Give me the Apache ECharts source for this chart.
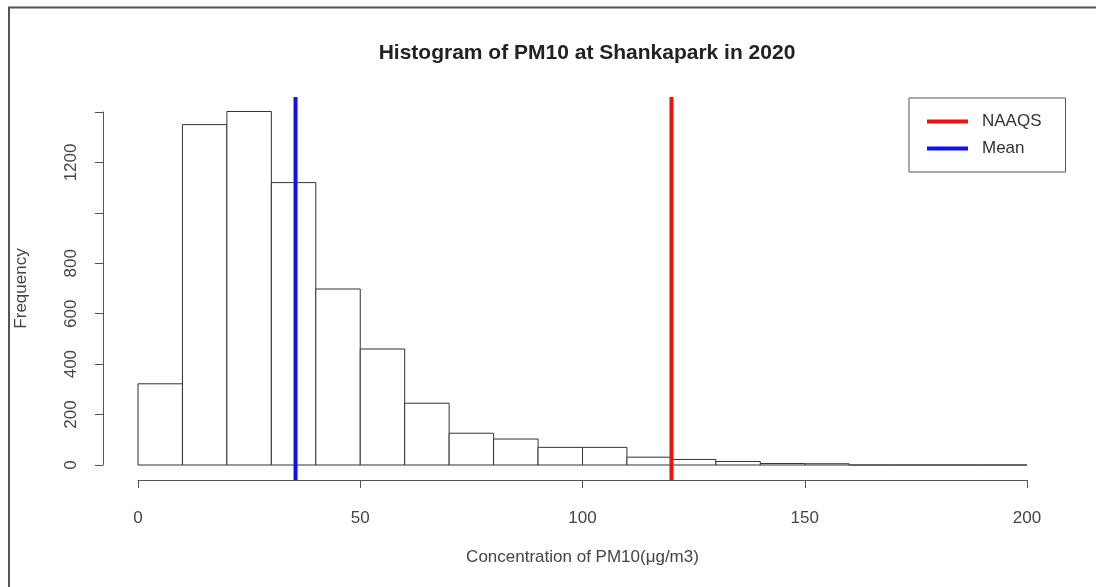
<!DOCTYPE html>
<html>
<head>
<meta charset="utf-8">
<script src="https://cdn.jsdelivr.net/npm/echarts@6/dist/echarts.min.js"></script>
<style>
  html, body { margin: 0; padding: 0; background: #fff; }
  #main { width: 1096px; height: 587px; }
</style>
</head>
<body>
<div id="main"></div>
<script>
// histogram bins (left edges, width 10) and counts
var binStart = [0, 10, 20, 30, 40, 50, 60, 70, 80, 90, 100, 110, 120, 130, 140, 150, 160, 170, 180, 190];
var binWidth = 10;
var counts = [322, 1350, 1402, 1120, 698, 460, 245, 126, 103, 70, 70, 31, 22, 14, 6, 5, 0, 0, 0, 0];
var meanValue = 35.5;
var naaqsValue = 120;
var yLabelsShown = [0, 200, 400, 600, 800, 1200];

var chart = echarts.init(document.getElementById('main'));

var histData = [];
for (var i = 0; i < binStart.length; i++) {
  histData.push([binStart[i], binStart[i] + binWidth, counts[i]]);
}

var font = 'Liberation Sans, Arial, sans-serif';

var option = {
  backgroundColor: '#fff',
  animation: false,
  title: {
    text: 'Histogram of PM10 at Shankapark in 2020',
    left: 582,
    top: 38,
    textAlign: 'center',
    textStyle: { fontFamily: font, fontSize: 21, fontWeight: 'bold', color: '#222' }
  },
  legend: {
    orient: 'vertical',
    left: 909,
    top: 98,
    data: ['NAAQS', 'Mean'],
    icon: 'rect',
    itemWidth: 41,
    itemHeight: 4,
    itemGap: 10,
    padding: [15, 24, 15, 18],
    borderColor: '#555',
    borderWidth: 1,
    textStyle: { fontFamily: font, fontSize: 17, color: '#333', padding: [0, 0, 0, 9] }
  },
  graphic: [{
    type: 'polyline',
    shape: { points: [[9, 587], [9, 7.5], [1096, 7.5]] },
    style: { stroke: '#555', lineWidth: 2, fill: null }
  }],
  grid: [
    { left: 138, right: 69, top: 112, bottom: 122 },
    { left: 102, right: 33, top: 97, bottom: 107 }
  ],
  xAxis: [{
    gridIndex: 0,
    type: 'value',
    min: 0,
    max: 200,
    interval: 50,
    offset: 15,
    splitLine: { show: false },
    axisLine: { onZero: false, lineStyle: { color: '#555', width: 1 } },
    axisTick: { length: 8, lineStyle: { color: '#555' } },
    axisLabel: { margin: 30, fontFamily: font, fontSize: 17, color: '#444' },
    name: 'Concentration of PM10(μg/m3)',
    nameLocation: 'middle',
    nameGap: 69,
    nameTextStyle: { fontFamily: font, fontSize: 17, color: '#444' }
  }, {
    gridIndex: 1,
    type: 'value',
    min: -8,
    max: 208,
    show: false
  }],
  yAxis: [{
    gridIndex: 0,
    type: 'value',
    min: 0,
    max: 1400,
    interval: 200,
    offset: 35,
    splitLine: { show: false },
    axisLine: { show: true, onZero: false, lineStyle: { color: '#555', width: 1 } },
    axisTick: { show: true, length: 8, lineStyle: { color: '#555' } },
    axisLabel: {
      rotate: 90,
      margin: 23,
      fontFamily: font,
      fontSize: 17,
      color: '#444',
      formatter: function (v) {
        return yLabelsShown.indexOf(v) >= 0 ? String(v) : '';
      }
    },
    name: 'Frequency',
    nameLocation: 'middle',
    nameRotate: 90,
    nameGap: 73,
    nameTextStyle: { fontFamily: font, fontSize: 17, color: '#444' }
  }, {
    gridIndex: 1,
    type: 'value',
    min: 0,
    max: 1,
    show: false
  }],
  series: [{
    name: 'hist',
    type: 'custom',
    xAxisIndex: 0,
    yAxisIndex: 0,
    data: histData,
    encode: { x: [0, 1], y: 2 },
    renderItem: function (params, api) {
      var p0 = api.coord([api.value(0), api.value(2)]);
      var p1 = api.coord([api.value(1), 0]);
      return {
        type: 'rect',
        shape: { x: p0[0], y: p0[1], width: p1[0] - p0[0], height: p1[1] - p0[1] },
        style: { fill: '#fff', stroke: '#333', lineWidth: 1 }
      };
    }
  }, {
    name: 'NAAQS',
    type: 'line',
    xAxisIndex: 1,
    yAxisIndex: 1,
    data: [[naaqsValue, 0], [naaqsValue, 1]],
    symbol: 'none',
    color: '#ee1111',
    lineStyle: { width: 4, color: '#ee1111' }
  }, {
    name: 'Mean',
    type: 'line',
    xAxisIndex: 1,
    yAxisIndex: 1,
    data: [[meanValue, 0], [meanValue, 1]],
    symbol: 'none',
    color: '#1111ee',
    lineStyle: { width: 4, color: '#1111ee' }
  }]
};

chart.setOption(option);
</script>
</body>
</html>
